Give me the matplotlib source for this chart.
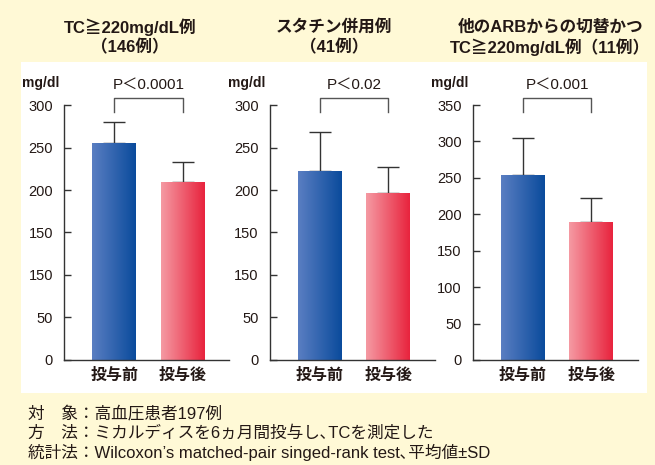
import matplotlib.pyplot as plt
import numpy as np
from matplotlib.colors import LinearSegmentedColormap
from matplotlib.patches import Rectangle
import matplotlib.transforms as mtransforms

plt.rcParams['font.family'] = ['Liberation Sans', 'Noto Sans CJK JP', 'DejaVu Sans']

# data
categories = ['投与前', '投与後']
titles = [['TC≧220mg/dL例', '（146例）'],
          ['スタチン併用例', '（41例）'],
          ['他のARBからの切替かつ', 'TC≧220mg/dL例（11例）']]
means = [[255, 209], [222, 196], [254, 190]]
sds = [[25, 24], [46, 31], [51, 33]]
pvals = ['P＜0.0001', 'P＜0.02', 'P＜0.001']
ymax = [300, 300, 350]
yticks = [[0, 50, 100, 150, 200, 250, 300],
          [0, 50, 100, 150, 200, 250, 300],
          [0, 50, 100, 150, 200, 250, 300, 350]]
# the printed labels (the original repeats 150 at the 100 tick)
ytick_labels = [['0', '50', '150', '150', '200', '250', '300'],
                ['0', '50', '150', '150', '200', '250', '300'],
                ['0', '50', '100', '150', '200', '250', '300', '350']]
notes = ['対　象：高血圧患者197例',
         '方　法：ミカルディスを6ヵ月間投与し､TCを測定した',
         '統計法：Wilcoxon’s matched-pair singed-rank test､平均値±SD']

bg = '#fff9d6'
txt = '#231815'
grads = [('#5a7ec2', '#0a4b9c'), ('#f59aa3', '#e8233d')]

fig = plt.figure(figsize=(6.55, 4.65), dpi=100, facecolor=bg)
fig.add_artist(Rectangle((0.032, 0.155), 0.956, 0.712, transform=fig.transFigure,
                         facecolor='white', edgecolor='none', zorder=0))

lefts = [0.098, 0.412, 0.722]
title_x = [0.198, 0.510, 0.840]
for i in range(3):
    ax = fig.add_axes([lefts[i], 0.226, 0.252, 0.548])
    ax.set_facecolor('none')
    x = np.arange(2)
    bars = ax.bar(x, means[i], width=0.64, color='none', zorder=2)
    for b, (c0, c1) in zip(bars, grads):
        cmap = LinearSegmentedColormap.from_list('g', [c0, c1])
        x0, w, h = b.get_x(), b.get_width(), b.get_height()
        im = ax.imshow(np.linspace(0, 1, 256).reshape(1, -1), cmap=cmap, aspect='auto',
                       extent=[x0, x0 + w, 0, h], zorder=2)
        im.set_clip_path(b)
    ax.errorbar(x, means[i], yerr=[[0, 0], sds[i]], fmt='none', ecolor='#333333',
                elinewidth=1, capsize=8, capthick=1, zorder=1)
    ax.set_xlim(-0.73, 1.68)
    ax.set_ylim(0, ymax[i])
    ax.set_yticks(yticks[i])
    ax.set_yticklabels(ytick_labels[i], fontsize=10.5, color=txt)
    ax.set_xticks(x)
    ax.set_xticklabels(categories, fontsize=11.5, fontweight='bold', color=txt)
    ax.tick_params(axis='y', direction='in', length=5, width=1, color='#333333', pad=8)
    ax.tick_params(axis='x', length=0, pad=6)
    for s in ['top', 'right']:
        ax.spines[s].set_visible(False)
    for s in ['left', 'bottom']:
        ax.spines[s].set_color('#333333')
        ax.spines[s].set_linewidth(1)

    tr = mtransforms.blended_transform_factory(ax.transData, ax.transAxes)
    ax.plot([0, 0, 1, 1], [0.974, 1.026, 1.026, 0.974], color='#555555', lw=1,
            transform=tr, clip_on=False)
    ax.text(0.5, 1.08, pvals[i], transform=tr, ha='center', va='center',
            fontsize=11, color=txt)
    ax.text(-0.14, 1.085, 'mg/dl', transform=ax.transAxes, ha='center', va='center',
            fontsize=10, fontweight='bold', color=txt)

    fig.text(title_x[i], 1 - 27 / 465, titles[i][0], ha='center', va='center',
             fontsize=12, fontweight='bold', color=txt)
    fig.text(title_x[i], 1 - 47 / 465, titles[i][1], ha='center', va='center',
             fontsize=12, fontweight='bold', color=txt)

for k, line in enumerate(notes):
    fig.text(28 / 655, 1 - (413 + 19.5 * k) / 465, line, ha='left', va='center',
             fontsize=12, color=txt)

fig.savefig('out.png', dpi=100, facecolor=bg)
